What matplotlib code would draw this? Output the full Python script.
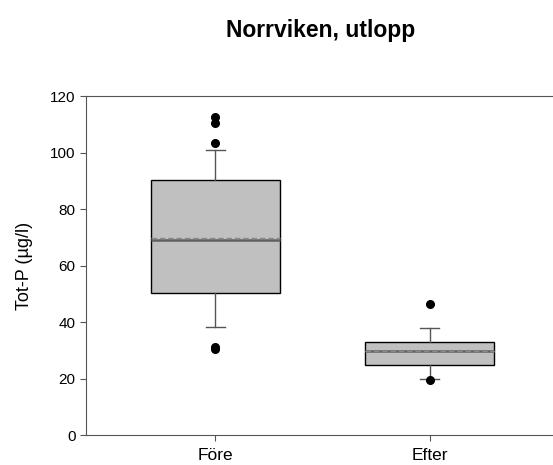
import matplotlib
matplotlib.use("Agg")
import matplotlib.pyplot as plt

# Data
categories = ["Före", "Efter"]
q1 = [50.2, 24.8]
median = [69.0, 29.6]
mean = [69.6, 29.9]
q3 = [90.2, 32.8]
whislo = [38.2, 19.8]
whishi = [100.9, 38.0]
fliers = [[103.2, 110.4, 112.5, 31.2, 30.6], [46.2, 19.5]]

plt.rcParams['font.family'] = ['Liberation Sans', 'DejaVu Sans']

fig = plt.figure(figsize=(5.53, 4.65), dpi=100)
ax = fig.add_axes([0.1555, 0.0645, 0.85, 0.729])

stats = []
for i, name in enumerate(categories):
    stats.append(dict(label=name, q1=q1[i], med=median[i], mean=mean[i],
                      q3=q3[i], whislo=whislo[i], whishi=whishi[i],
                      fliers=fliers[i]))

ax.bxp(stats, positions=[1, 2], widths=0.6, patch_artist=True,
       showmeans=True, meanline=True,
       boxprops=dict(facecolor="#c0c0c0", edgecolor="black", linewidth=1.0),
       medianprops=dict(color="#606060", linewidth=1.8),
       meanprops=dict(color="#8a8a8a", linestyle=(0, (4, 2)), linewidth=1.0),
       whiskerprops=dict(color="#555555", linewidth=1.0),
       capprops=dict(color="#555555", linewidth=1.0),
       capwidths=0.09,
       flierprops=dict(marker="o", markerfacecolor="black",
                       markeredgecolor="black", markersize=5.5))

ax.set_xlim(0.397, 2.59)
ax.set_ylim(0, 120)
ax.set_yticks(range(0, 121, 20))
ax.set_xticks([1, 2])
ax.set_xticklabels(categories, fontsize=12.5)
ax.tick_params(axis="both", direction="out", length=4, color="#555555")
ax.tick_params(axis="y", labelsize=11)
ax.tick_params(axis="x", pad=5)
ax.set_ylabel("Tot-P (µg/l)", fontsize=13, labelpad=12)
ax.spines["right"].set_visible(False)
for s in ["left", "bottom", "top"]:
    ax.spines[s].set_color("#555555")

fig.text(0.58, 0.935, "Norrviken, utlopp", ha="center", va="center",
         fontsize=16.5, fontweight="bold")

fig.savefig("out.png", dpi=100)
